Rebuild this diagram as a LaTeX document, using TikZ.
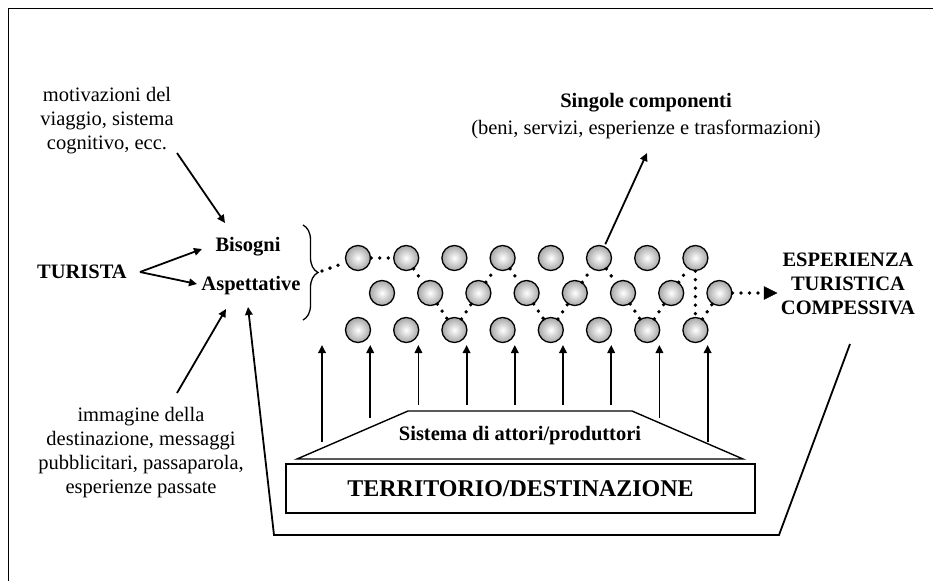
\documentclass[tikz,border=0pt]{standalone}
\usepackage{fontspec}
\setmainfont{Liberation Serif}
\usetikzlibrary{arrows.meta,decorations.pathreplacing}
\begin{document}
\begin{tikzpicture}[x=1pt,y=-1pt,
  txt/.style={font=\fontsize{20.5}{24}\selectfont, align=center, inner sep=0pt},
  btxt/.style={font=\fontsize{20.5}{24}\selectfont\bfseries, align=center, inner sep=0pt},
  ball/.style={circle, draw, line width=1.3pt, minimum size=25pt, inner sep=0pt, inner color=white, outer color=gray!70},
  arw/.style={-{Triangle[length=8pt,width=7.5pt]}, line width=1.8pt},
  dotline/.style={line width=3.8pt, line cap=round, dash pattern=on 0pt off 8.5pt},
  plain/.style={line width=1.4pt}]
\useasboundingbox (0,0) rectangle (933,581);
% frame
\draw[line width=1pt] (8,581) -- (8,8) -- (933,8);

% texts
\node[txt] (mot) at (107,121) {motivazioni del\\viaggio, sistema\\cognitivo, ecc.};
\node[btxt] (bis) at (248,247) {Bisogni};
\node[btxt] (asp) at (251,286) {Aspettative};
\node[btxt] (tur) at (82,272) {TURISTA};
\node[txt] (img) at (141,453) {immagine della\\destinazione, messaggi\\pubblicitari, passaparola,\\esperienze passate};
\node[btxt] (sing) at (646,103) {Singole componenti};
\node[txt] (beni) at (646,129) {(beni, servizi, esperienze e trasformazioni)};
\node[btxt] (esp) at (848,284) {ESPERIENZA\\TURISTICA\\COMPESSIVA};

% circles
\foreach \i in {1,...,8} {
  \node[ball] (T\i) at ({358+48.2*(\i-1)},258) {};
  \node[ball] (M\i) at ({382+48.2*(\i-1)},293) {};
  \node[ball] (B\i) at ({358+48.2*(\i-1)},330) {};
}

% brace
\draw[decorate, decoration={brace, amplitude=15pt}, line width=1.3pt] (303,225) -- (303,320);
\coordinate (bt) at (322,271);

% dotted path
\draw[dotline] (bt) -- (T1) -- (T2) -- (M2) -- (B3) -- (M3) -- (T4) -- (M4) -- (B5) -- (M5) -- (T6) -- (M6) -- (B7) -- (M7) -- (T8) -- (B8) -- (M8);
\coordinate (ae) at (777,293);
\draw[dotline] (M8) -- (765,293);
\draw[fill] (764,286.5) -- (ae) -- (764,299.5) -- cycle;

% arrows to Bisogni / Aspettative
\coordinate (tv) at (140,272);
\coordinate (tb) at (202,249);
\coordinate (ta) at (197,284);
\draw[arw] (tv) -- (tb);
\draw[arw] (tv) -- (ta);
\coordinate (m1) at (177,153);
\coordinate (m2) at (225,223);
\draw[arw] (m1) -- (m2);
\coordinate (i1) at (177,393);
\coordinate (i2) at (226,309);
\draw[arw] (i1) -- (i2);

% singole componenti arrow
\coordinate (sc) at (647,153);
\draw[arw, shorten <=2pt] (T6) -- (sc);

% feedback line
\coordinate (f1) at (850,344);
\coordinate (f2) at (779,535);
\coordinate (f3) at (274,535);
\coordinate (f4) at (248,307);
\draw[arw] (f1) -- (f2) -- (f3) -- (f4);

% trapezoid and territory
\coordinate (z1) at (297,459);
\coordinate (z2) at (408,411);
\coordinate (z3) at (632,411);
\coordinate (z4) at (743,459);
\draw[plain, line join=miter] (z1) -- (z2) -- (z3) -- (z4) -- cycle;
\node[btxt] (sis) at (520,436) {Sistema di attori/produttori};
\node[draw, line width=1.4pt, minimum width=469pt, minimum height=49pt, inner sep=0pt,
      font=\fontsize{24}{28}\selectfont\bfseries] (terr) at (520.5,488.5) {TERRITORIO/DESTINAZIONE};

% vertical arrows
\foreach \k/\b in {0/442,1/418,2/405,3/405,4/405,5/405,6/405,7/418,8/442} {
  \coordinate (vs\k) at ({322+48.2*\k},\b);
  \coordinate (ve\k) at ({322+48.2*\k},345);
  \draw[arw] (vs\k) -- (ve\k);
}
\end{tikzpicture}
\end{document}
